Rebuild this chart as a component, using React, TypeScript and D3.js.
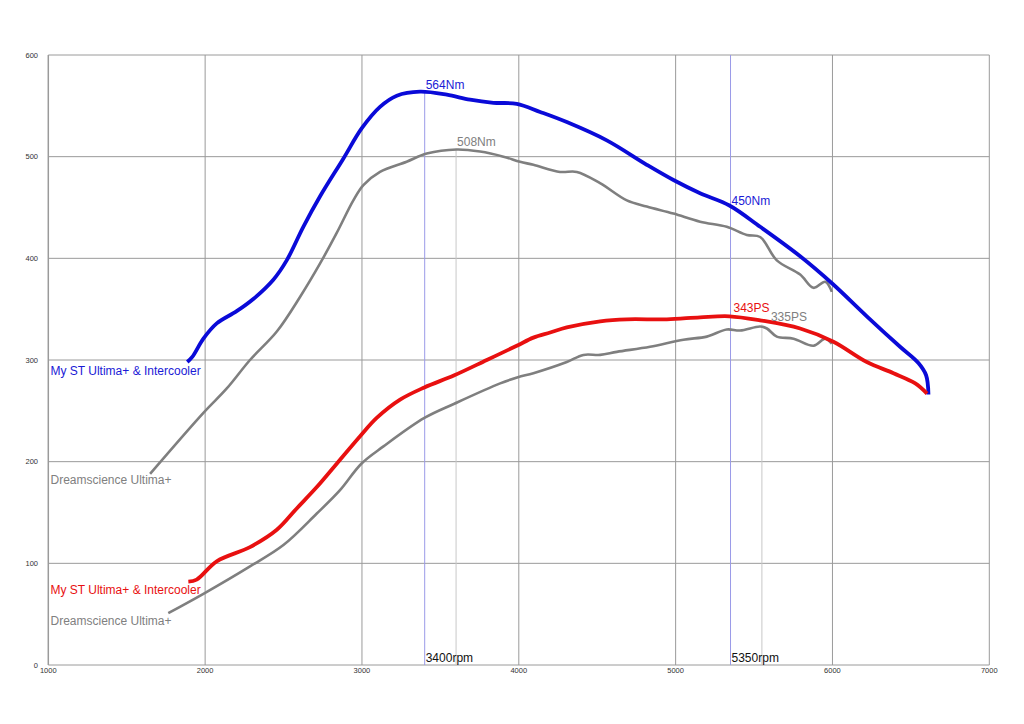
import React from "react";
import * as d3 from "d3";

// ---- data ----
const xTicks = [1000, 2000, 3000, 4000, 5000, 6000, 7000];
const yTicks = [0, 100, 200, 300, 400, 500, 600];

const myTorqueRpm = [1886, 1918, 1989, 2074, 2201, 2307, 2435, 2520, 2626, 2733, 2881, 2999, 3115, 3222, 3370, 3541, 3689, 3838, 3987, 4136, 4306, 4561, 4816, 4986, 5156, 5343, 5539, 5794, 6000, 6219, 6431, 6548, 6597, 6612];
const myTorqueNm = [298, 303, 321, 336, 348, 360, 379, 398, 431, 461, 498, 528, 549, 560, 564, 561, 556, 553, 552, 544, 534, 516, 492, 477, 464, 452, 431, 402, 375, 343, 313, 297, 285, 266];

const dsTorqueRpm = [1649, 1989, 2138, 2286, 2457, 2605, 2733, 2839, 2945, 3009, 3115, 3285, 3413, 3604, 3753, 3902, 4008, 4093, 4263, 4370, 4518, 4689, 4816, 4986, 5156, 5326, 5454, 5539, 5645, 5794, 5879, 5954, 5996];
const dsTorqueNm = [188, 248, 272, 300, 328, 362, 395, 425, 457, 472, 485, 495, 503, 507, 505, 500, 495, 492, 485, 485, 474, 457, 451, 444, 436, 431, 423, 421, 398, 384, 371, 377, 367];

const myPowerRpm = [1893, 1946, 2074, 2286, 2457, 2584, 2712, 2839, 2988, 3094, 3243, 3398, 3589, 3796, 3987, 4093, 4200, 4306, 4519, 4689, 4944, 5156, 5343, 5539, 5794, 6006, 6219, 6389, 6528, 6603];
const myPowerPS = [82, 84, 102, 116, 133, 154, 175, 198, 225, 243, 261, 273, 285, 300, 314, 322, 327, 332, 338, 340, 340, 342, 343, 339, 331, 318, 298, 287, 277, 267];

const dsPowerRpm = [1765, 1989, 2286, 2499, 2712, 2860, 2996, 3137, 3398, 3589, 3881, 3994, 4093, 4306, 4412, 4519, 4625, 4837, 5050, 5199, 5326, 5411, 5539, 5582, 5645, 5752, 5879, 5954, 5996];
const dsPowerPS = [51, 70, 97, 118, 149, 172, 198, 215, 243, 257, 277, 283, 287, 298, 305, 305, 308, 313, 320, 323, 330, 329, 333, 331, 323, 321, 314, 321, 316];

const legendMy = "My ST Ultima+ & Intercooler";
const legendDs = "Dreamscience Ultima+";

const peakLines = [
  { rpm: 3400, from: 564, color: "#9a9ae8" },
  { rpm: 3600, from: 508, color: "#c8c8c8" },
  { rpm: 5350, from: 600, color: "#9a9ae8" },
  { rpm: 5550, from: 335, color: "#c8c8c8" },
];
const rpmLabels = [
  { rpm: 3400, label: "3400rpm" },
  { rpm: 5350, label: "5350rpm" },
];

const FONT = "Arial, 'Liberation Sans', sans-serif";

export default function App() {
  const W = 1024, H = 724;
  const x = d3.scaleLinear().domain([1000, 7000]).range([48.3, 989.3]);
  const y = d3.scaleLinear().domain([0, 600]).range([665, 55]);

  const smooth = d3.line<[number, number]>().x(d => x(d[0])).y(d => y(d[1])).curve(d3.curveCatmullRom.alpha(0.5));
  const zip = (a: number[], b: number[]) => a.map((v, i) => [v, b[i]] as [number, number]);

  return (
    <svg width={W} height={H} style={{ position: "absolute", left: 0, top: 0, background: "#fff" }} fontFamily={FONT}>
      <rect width={W} height={H} fill="#fff" />
      {/* grid */}
      {yTicks.map(t => (
        <line key={"h" + t} x1={x(1000)} x2={x(7000)} y1={y(t)} y2={y(t)} stroke="#9a9a9a" strokeWidth={1} />
      ))}
      {xTicks.map(t => (
        <line key={"v" + t} x1={x(t)} x2={x(t)} y1={y(0)} y2={y(600)} stroke="#9a9a9a" strokeWidth={t === 1000 ? 1.5 : 1} />
      ))}
      {/* peak marker lines */}
      {peakLines.map(p => (
        <line key={"p" + p.rpm} x1={x(p.rpm)} x2={x(p.rpm)} y1={y(p.from)} y2={y(0)} stroke={p.color} strokeWidth={1} />
      ))}
      {/* tick labels */}
      {yTicks.map(t => (
        <text key={"yl" + t} x={38} y={y(t)} dy="0.35em" textAnchor="end" fontSize={7.5} fill="#333">{t}</text>
      ))}
      {xTicks.map(t => (
        <text key={"xl" + t} x={x(t)} y={673} textAnchor="middle" fontSize={7.5} fill="#333">{t}</text>
      ))}
      {/* curves */}
      <path d={smooth(zip(dsTorqueRpm, dsTorqueNm)) || ""} fill="none" stroke="#7f7f7f" strokeWidth={2.6} strokeLinejoin="round" />
      <path d={smooth(zip(dsPowerRpm, dsPowerPS)) || ""} fill="none" stroke="#7f7f7f" strokeWidth={2.6} strokeLinejoin="round" />
      <path d={smooth(zip(myTorqueRpm, myTorqueNm)) || ""} fill="none" stroke="#0a0ad8" strokeWidth={3.8} strokeLinejoin="round" />
      <path d={smooth(zip(myPowerRpm, myPowerPS)) || ""} fill="none" stroke="#e81010" strokeWidth={3.8} strokeLinejoin="round" />
      {/* peak labels */}
      <text x={x(3400) + 1} y={y(564) - 3} fontSize={12} fill="#1a1ad6">564Nm</text>
      <text x={x(3600) + 1} y={y(508) - 3} fontSize={12} fill="#808080">508Nm</text>
      <text x={x(5350) + 1} y={205} fontSize={12} fill="#1a1ad6">450Nm</text>
      <text x={x(5350) + 3} y={311.5} fontSize={12} fill="#e81010">343PS</text>
      <text x={x(5550) + 9} y={321} fontSize={12} fill="#808080">335PS</text>
      {rpmLabels.map(r => (
        <text key={r.label} x={x(r.rpm) + 1} y={662} fontSize={12} fill="#111">{r.label}</text>
      ))}
      {/* legend labels */}
      <text x={50.5} y={375} fontSize={12} fill="#1a1ad6">{legendMy}</text>
      <text x={50.5} y={484} fontSize={12} fill="#808080">{legendDs}</text>
      <text x={50.5} y={594} fontSize={12} fill="#e81010">{legendMy}</text>
      <text x={50.5} y={625} fontSize={12} fill="#808080">{legendDs}</text>
    </svg>
  );
}
